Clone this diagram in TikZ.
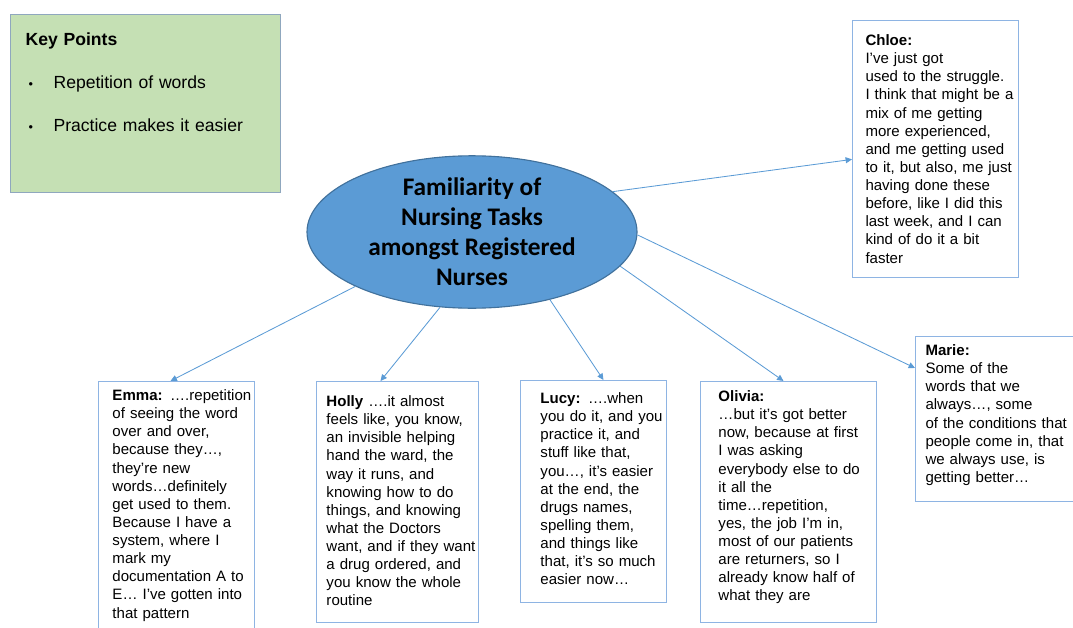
\documentclass[tikz,border=0pt]{standalone}
\usepackage{fontspec}
\setmainfont{Liberation Sans}
\newfontfamily\calibri{Carlito}
\usetikzlibrary{shapes.geometric,arrows.meta}

\definecolor{topicblue}{HTML}{5B9BD5}
\definecolor{topicline}{HTML}{41719C}
\definecolor{boxline}{HTML}{8EB4E3}
\definecolor{keyfill}{HTML}{C5E0B4}
\definecolor{keyline}{HTML}{8FA7BE}

% quote text, one line per \\ and no wrapping
\newcommand{\qlines}[1]{\begin{tabular}[t]{@{}l@{}}#1\end{tabular}}

\begin{document}
\begin{tikzpicture}[
  x=0.25mm, y=-0.25mm,
  quote/.style={rectangle, draw=boxline, line width=0.7pt, anchor=north west,
    align=left, inner ysep=0pt, font=\fontsize{10.7}{12.9}\selectfont},
  keybox/.style={rectangle, draw=keyline, fill=keyfill, line width=0.8pt,
    anchor=north west, align=left, inner ysep=0pt,
    font=\fontsize{12.5}{30.5}\selectfont},
  topic/.style={ellipse, draw=topicline, fill=topicblue, line width=0.8pt,
    minimum width=82.5mm, minimum height=37mm, inner sep=0pt, align=center,
    font=\calibri\bfseries\fontsize{18}{21.3}\selectfont},
  link/.style={-{Triangle[length=1.6mm,width=1.5mm]}, draw=topicblue, line width=0.6pt},
]
\useasboundingbox (0,0) rectangle (1073,628);

% key points
\node[keybox, inner xsep=3.75mm, text width=60mm, text height=7.75mm, text depth=36.75mm] (keypts) at (10,14)
  {\textbf{Key Points}\\
   \hspace*{0.75mm}\makebox[6.25mm][l]{\small•}Repetition of words\\
   \hspace*{0.75mm}\makebox[6.25mm][l]{\small•}Practice makes it easier};

% centre
\node[topic] (ell) at (472,232) {Familiarity of\\Nursing Tasks\\amongst Registered\\Nurses};

% quotes
\node[quote, inner xsep=3.25mm, text width=35mm, text height=6.25mm, text depth=58mm] (chloe) at (852,20)
  {\qlines{\textbf{Chloe:}\\ I’ve just got\\ used to the struggle.\\ I think that might be a\\ mix of me getting\\
   more experienced,\\ and me getting used\\ to it, but also, me just\\ having done these\\
   before, like I did this\\ last week, and I can\\ kind of do it a bit\\ faster}};
\node[quote, inner xsep=3.5mm, text width=32mm, text height=4.75mm, text depth=60mm] (emma) at (98,381)
  {\qlines{\textbf{Emma:} ….repetition\\ of seeing the word\\ over and over,\\ because they…,\\ they’re new\\
   words…definitely\\ get used to them.\\ Because I have a\\ system, where I\\ mark my\\
   documentation A to\\ E… I’ve gotten into\\ that pattern}};
\node[quote, inner xsep=2.5mm, text width=35.5mm, text height=6.25mm, text depth=54mm] (holly) at (316,381)
  {\qlines{\textbf{Holly} ….it almost\\ feels like, you know,\\ an invisible helping\\ hand the ward, the\\
   way it runs, and\\ knowing how to do\\ things, and knowing\\ what the Doctors\\
   want, and if they want\\ a drug ordered, and\\ you know the whole\\ routine}};
\node[quote, inner xsep=5mm, text width=26.5mm, text height=5.75mm, text depth=49.75mm] (lucy) at (520,380)
  {\qlines{\textbf{Lucy:} ….when\\ you do it, and you\\ practice it, and\\ stuff like that,\\
   you…, it’s easier\\ at the end, the\\ drugs names,\\ spelling them,\\ and things like\\
   that, it’s so much\\ easier now…}};
\node[quote, inner xsep=4.5mm, text width=35mm, text height=5mm, text depth=55.25mm] (olivia) at (700,381)
  {\qlines{\textbf{Olivia:}\\ …but it’s got better\\ now, because at first\\ I was asking\\ everybody else to do\\
   it all the\\ time…repetition,\\ yes, the job I’m in,\\ most of our patients\\
   are returners, so I\\ already know half of\\ what they are}};
\node[quote, inner xsep=2.5mm, text width=38.75mm, text height=4.75mm, text depth=36.5mm] (marie) at (915,336)
  {\qlines{\textbf{Marie:}\\ Some of the\\ words that we\\ always…, some\\ of the conditions that\\
   people come in, that\\ we always use, is\\ getting better…}};

% links
\draw[link] (ell.16) -- ([yshift=-2.6mm]chloe.west);
\draw[link] (ell.359) -- ([yshift=-8mm]marie.north west);
\draw[link] (ell.205) -- ([xshift=-1.5mm]emma.north);
\draw[link] (ell.247) -- ([xshift=-4.25mm]holly.north);
\draw[link] (ell.319) -- ([xshift=2.5mm]lucy.north);
\draw[link] (ell.347) -- ([xshift=-1.25mm]olivia.north);
\end{tikzpicture}
\end{document}
